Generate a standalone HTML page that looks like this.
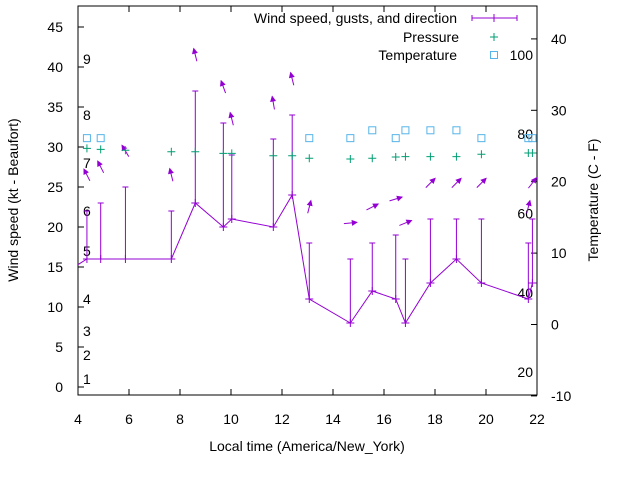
<!DOCTYPE html>
<html><head><meta charset="utf-8"><style>
body{margin:0;background:#fff}
svg{display:block;font-family:"Liberation Sans",sans-serif}
</style></head><body>
<svg id="chart" width="640" height="480" viewBox="0 0 640 480" xmlns="http://www.w3.org/2000/svg">
<g id="axes"></g>
<g id="marks"></g>
<g id="legend"></g>
</svg>
<script>
const times=[3.7,4.35,4.89,5.86,7.66,8.6,9.7,10.03,11.66,12.4,13.07,14.68,15.54,16.46,16.84,17.82,18.84,19.82,21.66,21.82];
const speeds=[14.7,16,16,16,16,23,20,21,20,24,11,8,12,11,8,13,16,13,11,13];
const gusts=[null,22,23,25,22,37,33,29,31,34,18,16,18,19,16,21,21,21,18,21];
const headings=[null,333,333,329,346,346,340,346,350,346,14,84,63,73,68,45,45,45,14,38];
const pressTimes=[4.35,4.89,5.86,7.66,8.6,9.7,10.03,11.66,12.4,13.07,14.68,15.54,16.46,16.84,17.82,18.84,19.82,21.66,21.82];
const pressures=[29.83,29.7,29.6,29.4,29.4,29.2,29.2,28.9,28.9,28.6,28.5,28.6,28.75,28.8,28.8,28.8,29.1,29.25,29.25];
const tempTimes=[4.35,4.89,13.07,14.68,15.54,16.46,16.84,17.82,18.84,19.82,21.66,21.82];
const temps=[26.1,26.1,26.1,26.1,27.2,26.1,27.2,27.2,27.2,26.1,26.1,26.1];
const xTicks=[4,6,8,10,12,14,16,18,20,22];
const yTicks=[0,5,10,15,20,25,30,35,40,45];
const y2Ticks=[-10,0,10,20,30,40];
const fLabels=["100","80","60","40","20"];
const fValues=[100,80,60,40,20];
const bLabels=["1","2","3","4","5","6","7","8","9"];
const bValues=[1,4,7,11,17,22,28,34,41];

const L=78,R=537,T=6,B=395;
const X=t=>L+(t-4)*(R-L)/18;
const Y=v=>387-v*8;
const Y2=c=>324.5-c*7.14;
const NS="http://www.w3.org/2000/svg";
function mk(parent,tag,attrs,name){const e=document.createElementNS(NS,tag);for(const k in attrs)e.setAttribute(k,attrs[k]);


parent.appendChild(e);return e;}
const ax=document.getElementById('axes'),mg=document.getElementById('marks'),lg=document.getElementById('legend');
mk(ax,'rect',{x:L,y:T,width:R-L,height:B-T,fill:'none',stroke:'#000','stroke-width':1},'plot-frame');
xTicks.forEach(t=>{const x=X(t);
mk(ax,'line',{x1:x,x2:x,y1:B,y2:B-6,stroke:'#000'},'x-tick');
mk(ax,'line',{x1:x,x2:x,y1:T,y2:T+6,stroke:'#000'},'x-tick-top');
const tx=mk(ax,'text',{x:x,y:424,'text-anchor':'middle','font-size':14},'x-tick-label');tx.textContent=t;});
yTicks.forEach(v=>{const y=Y(v);
mk(ax,'line',{x1:L,x2:L+6,y1:y,y2:y,stroke:'#000'},'y-tick');
const tx=mk(ax,'text',{x:63,y:y+5,'text-anchor':'end','font-size':14},'y-tick-label');tx.textContent=v;});
y2Ticks.forEach(v=>{const y=Y2(v);
mk(ax,'line',{x1:R,x2:R-6,y1:y,y2:y,stroke:'#000'},'y2-tick');
const tx=mk(ax,'text',{x:551,y:y+5,'text-anchor':'start','font-size':14},'y2-tick-label');tx.textContent=v;});
fValues.forEach((f,i)=>{const y=Y2((f-32)*5/9);
const tx=mk(ax,'text',{x:533,y:y+5,'text-anchor':'end','font-size':14},'fahrenheit-label');tx.textContent=fLabels[i];});
bValues.forEach((v,i)=>{const tx=mk(ax,'text',{x:83,y:Y(v)+5,'font-size':14},'beaufort-label');tx.textContent=bLabels[i];});
let t=mk(ax,'text',{x:307,y:451,'text-anchor':'middle','font-size':14},'x-axis-title');t.textContent='Local time (America/New_York)';
t=mk(ax,'text',{x:0,y:0,'text-anchor':'middle','font-size':14,transform:'translate(18,200) rotate(-90)'},'y-axis-title');t.textContent='Wind speed (kt - Beaufort)';
t=mk(ax,'text',{x:0,y:0,'text-anchor':'middle','font-size':14,transform:'translate(598,200) rotate(-90)'},'y2-axis-title');t.textContent='Temperature (C - F)';

const defs=mk(mg,'clipPath',{id:'clip'},'clip');mk(defs,'rect',{x:L,y:T,width:R-L,height:B-T},'clip-rect');
const P='#9400d3',G='#009e73',C='#56b4e9';
const g=mk(mg,'g',{'clip-path':'url(#clip)'},'series');
mk(g,'polyline',{points:times.map((tt,i)=>X(tt)+','+Y(speeds[i])).join(' '),fill:'none',stroke:P,'stroke-width':1},'wind-speed-line');
times.forEach((tt,i)=>{if(gusts[i]==null)return;const x=X(tt),y=Y(speeds[i]),gy=Y(gusts[i]);
mk(g,'line',{x1:x,x2:x,y1:y,y2:gy,stroke:P},'gust-bar');
mk(g,'line',{x1:x-3,x2:x+3,y1:gy,y2:gy,stroke:P},'gust-cap');
mk(g,'path',{d:`M${x-4},${y}h8M${x},${y-4}v8`,stroke:P},'speed-point');
const a=headings[i]*Math.PI/180,len=13,cy=Y(gusts[i]+4.5);
const dx=Math.sin(a)*len/2,dy=-Math.cos(a)*len/2;
const hx=x+dx,hy=cy+dy;
mk(g,'line',{x1:x-dx,y1:cy-dy,x2:hx,y2:hy,stroke:P},'direction-arrow');
const ux=Math.sin(a),uy=-Math.cos(a),px=-uy,py=ux;
mk(g,'polygon',{points:`${hx},${hy} ${hx-ux*4.5+px*2.2},${hy-uy*4.5+py*2.2} ${hx-ux*4.5-px*2.2},${hy-uy*4.5-py*2.2}`,fill:P,stroke:P},'arrow-head');});
pressTimes.forEach((tt,i)=>{const x=X(tt),y=Y(pressures[i]);
mk(g,'path',{d:`M${x-4},${y}h8M${x},${y-4}v8`,stroke:G},'pressure-point');});
tempTimes.forEach((tt,i)=>{const x=X(tt),y=Y2(temps[i]);
mk(g,'rect',{x:x-3.5,y:y-3.5,width:7,height:7,fill:'none',stroke:C},'temperature-point');});

t=mk(lg,'text',{x:457,y:23,'text-anchor':'end','font-size':14},'legend-wind-label');t.textContent='Wind speed, gusts, and direction';
mk(lg,'path',{d:'M472,18h45M472,15v6M517,15v6M494,14v8',stroke:P},'legend-wind-sample');
t=mk(lg,'text',{x:459,y:42,'text-anchor':'end','font-size':14},'legend-pressure-label');t.textContent='Pressure';
mk(lg,'path',{d:'M490,37h8M494,33v8',stroke:G},'legend-pressure-sample');
t=mk(lg,'text',{x:457,y:60,'text-anchor':'end','font-size':14},'legend-temperature-label');t.textContent='Temperature';
mk(lg,'rect',{x:490.5,y:51.5,width:7,height:7,fill:'none',stroke:C},'legend-temperature-sample');
</script>
</body></html>
